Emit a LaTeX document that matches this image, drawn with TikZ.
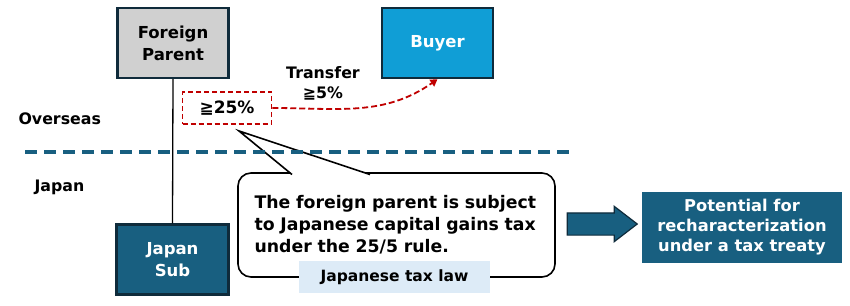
\documentclass[tikz,border=0pt]{standalone}
\usepackage{fontspec}
\setmainfont{DejaVu Sans}
\usetikzlibrary{arrows.meta,shapes.arrows}
\definecolor{navy}{HTML}{185F80}
\definecolor{sky}{HTML}{109ED6}
\definecolor{edge}{HTML}{0F2B3B}
\definecolor{greybox}{HTML}{D0D0D0}
\definecolor{tagblue}{HTML}{DDEBF7}
\definecolor{darkred}{HTML}{C00000}
\newcommand{\atleast}{≧}

\begin{document}
\begin{tikzpicture}[
    x=1pt, y=-1pt,
    every node/.style={font=\bfseries\fontsize{16}{21}\selectfont},
    entity/.style={draw=edge, line width=2.4pt, align=center, minimum width=111pt, minimum height=70pt, inner sep=0pt, font=\bfseries\fontsize{16.5}{22}\selectfont},
    region/.style={anchor=west, font=\bfseries\fontsize{15.8}{18}\selectfont},
    share/.style={draw=darkred, dash pattern=on 5pt off 3pt, line width=1.5pt, minimum width=89pt, minimum height=32pt, font=\bfseries\fontsize{17}{20}\selectfont},
    callout/.style={draw, fill=white, rounded corners=13pt, line width=1.6pt, minimum width=317pt, minimum height=104pt, text width=284pt, align=left, font=\bfseries\fontsize{17.3}{22}\selectfont},
    transfer/.style={-{Triangle[length=7pt,width=8pt]}, draw=darkred, dash pattern=on 6pt off 3pt, line width=1.8pt},
    boundary/.style={draw=navy, line width=4pt, dash pattern=on 12pt off 7pt}
]
\useasboundingbox (0,0) rectangle (850,305);
\node[entity, fill=greybox] (parent) at (173,43) {Foreign\\Parent};
\node[entity, fill=sky, text=white] (buyer) at (437.5,43) {Buyer};
\node[entity, fill=navy, text=white, minimum width=112pt] (sub) at (172.5,259.5) {Japan\\Sub};
\node[share] (stake) at (227,108) {\atleast25\%};
\node[align=center, font=\bfseries\fontsize{15.8}{20}\selectfont] (transfer) at (323,83) {Transfer\\\atleast5\%};
\node[region] (overseas) at (15,119) {Overseas};
\node[region] (japan) at (31,187) {Japan};
\draw[line width=1.3pt] (parent.south) -- (sub.north);
\draw[transfer] (stake.east) to[out=0, in=215] (buyer.south);
% callout with its pointer
\node[callout] (note) at (396.5,225) {The foreign parent is subject\\to Japanese capital gains tax\\under the 25/5 rule.};
\coordinate (tip) at (239,131);
\coordinate (pl) at (292,174.5);
\coordinate (pr) at (370,174.5);
\fill[white] (pl) -- (tip) -- (pr) -- cycle;
\draw[line width=1.6pt] (pl) -- (tip) -- (pr);
\node[fill=tagblue, minimum width=191pt, minimum height=32pt, font=\bfseries\fontsize{15.5}{18}\selectfont] (law) at (394.5,277) {Japanese tax law};
% border between the two countries
\coordinate (bl) at (25,152);
\coordinate (br) at (572,152);
\draw[boundary] (bl) -- (br);
\node[single arrow, draw=edge, fill=navy, line width=1.2pt, minimum height=70pt, inner xsep=0pt, inner ysep=10.5pt, single arrow head extend=6.5pt, single arrow tip angle=75] (shift) at (595,224) {};
\node[fill=navy, text=white, align=center, minimum width=200pt, minimum height=71pt, font=\bfseries\fontsize{16.3}{20}\selectfont] (outcome) at (742,227.5) {Potential for\\recharacterization\\under a tax treaty};
\end{tikzpicture}
\end{document}
